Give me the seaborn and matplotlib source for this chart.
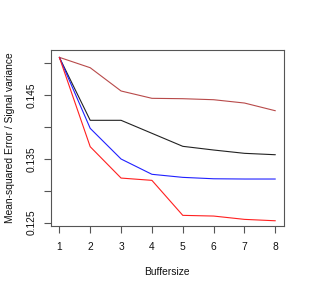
import matplotlib
matplotlib.use("Agg")
import matplotlib.pyplot as plt
import seaborn as sns
import pandas as pd

# values
buffersize = [1, 2, 3, 4, 5, 6, 7, 8]
series_brown = [0.15094, 0.14931, 0.14566, 0.14451, 0.14445, 0.14429, 0.14377, 0.14256]
series_black = [0.15094, 0.14106, 0.14106, 0.13902, 0.13698, 0.13640, 0.13588, 0.13566]
series_blue = [0.15094, 0.13980, 0.13499, 0.13259, 0.13211, 0.13189, 0.13185, 0.13185]
series_red = [0.15094, 0.13692, 0.13200, 0.13164, 0.12615, 0.12604, 0.12552, 0.12530]
series_names = ["brown", "black", "blue", "red"]
series_colors = ["#b84a4a", "#222222", "#2020ff", "#ff2020"]
y_ticks = [0.125, 0.130, 0.135, 0.140, 0.145, 0.150]
y_tick_labels = ["0.125", "", "0.135", "", "0.145", ""]

rows = []
for name, vals in zip(series_names, [series_brown, series_black, series_blue, series_red]):
    for b, v in zip(buffersize, vals):
        rows.append({"Buffersize": b, "value": v, "series": name})
df = pd.DataFrame(rows)

sns.set_style("white")
plt.rcParams["font.family"] = ["Liberation Sans", "DejaVu Sans"]

fig = plt.figure(figsize=(3.09, 2.91), dpi=100)
ax = fig.add_axes([50.7 / 309, 1 - 226 / 291, (284 - 50.7) / 309, 176 / 291])

sns.lineplot(data=df, x="Buffersize", y="value", hue="series",
             palette=dict(zip(series_names, series_colors)),
             linewidth=0.8, legend=False, ax=ax)

ax.set_xlim(0.72, 8.28)
ax.set_ylim(0.12448, 0.15209)
ax.set_xticks(buffersize)
ax.set_xticklabels([str(b) for b in buffersize])
ax.set_yticks(y_ticks)
ax.set_yticklabels(y_tick_labels, rotation=90, va="center")

for sp in ax.spines.values():
    sp.set_visible(True)
    sp.set_color("#555555")
    sp.set_linewidth(0.8)

ax.tick_params(axis="both", which="major", direction="out", length=4.8,
               width=0.8, color="#555555", labelsize=7.4, labelcolor="#111111",
               left=True, bottom=True)
ax.tick_params(axis="y", pad=5.5)
ax.tick_params(axis="x", pad=6.5)

ax.set_xlabel("Buffersize", fontsize=7.4, color="#111111")
ax.set_ylabel("Mean-squared Error / Signal variance", fontsize=7.4, color="#111111")
ax.xaxis.set_label_coords(0.5, -0.26)
ax.xaxis.label.set_va("center")
ax.yaxis.set_label_coords(-0.174, 0.5)
ax.yaxis.label.set_va("center")

fig.savefig("out.png", dpi=100)
plt.close(fig)
